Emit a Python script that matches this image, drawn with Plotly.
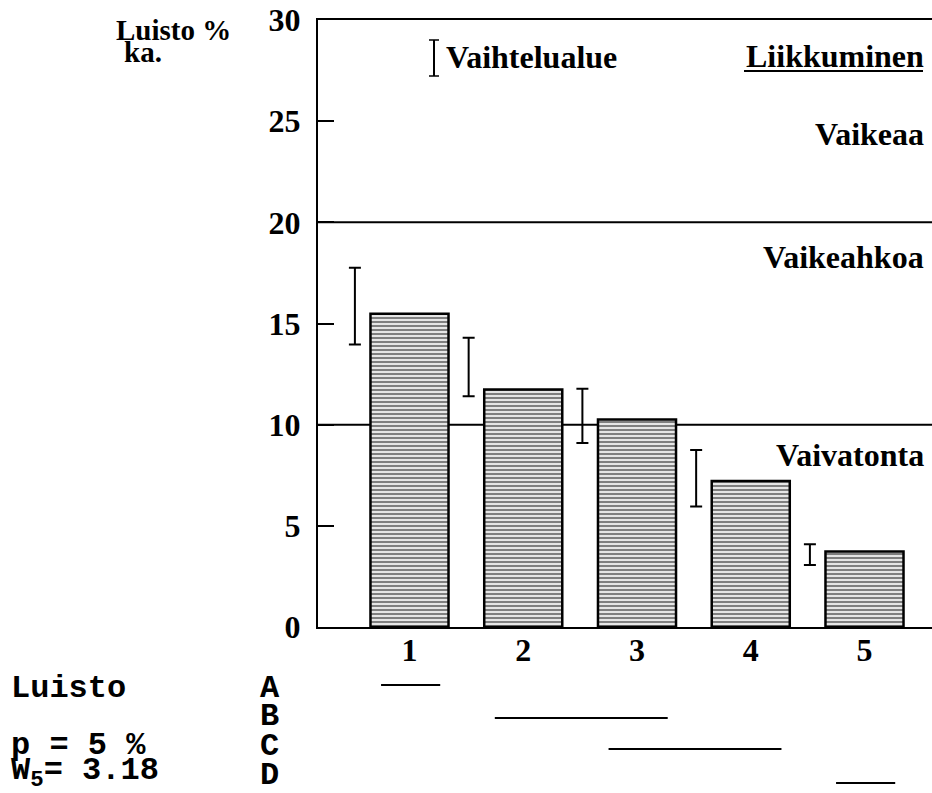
import plotly.graph_objects as go

# Movement classes along the x axis
categories = [1, 2, 3, 4, 5]
# Mean slip (Luisto %, ka.) per class
mean_slip = [15.48, 11.74, 10.26, 7.22, 3.73]
# Observed range (Vaihtelualue) per class
range_low = [13.96, 11.4, 9.1, 5.96, 3.07]
range_high = [17.75, 14.3, 11.77, 8.75, 4.09]
y_ticks = [0, 5, 10, 15, 20, 25, 30]
# Class boundaries drawn as horizontal lines, with their labels
zone_lines = [10, 20]
zone_labels = ["Vaivatonta", "Vaikeahkoa", "Vaikeaa"]
# Homogeneous groups (first class, last class) from the multiple comparison
group_letters = ["A", "B", "C", "D"]
group_spans = [(1, 1), (2, 3), (3, 4), (5, 5)]

# Layout geometry (pixels in the 932x793 page)
W, H = 932, 793
L, T, B = 318, 20, 627
PW, PH = W - L, B - T
STEP = 113.75  # pixels per category
X0 = 1 - (409.5 - L) / STEP
X1 = X0 + PW / STEP
ERR_SHIFT = -0.48


def px(x):
    return (x - L) / PW


def py(y):
    return (B - y) / PH


serif = dict(family="Liberation Serif", color="black", weight="bold")
mono = dict(family="Liberation Mono", color="black", weight="bold")

fig = go.Figure()

fig.add_trace(go.Bar(
    x=categories, y=mean_slip, width=0.686,
    marker=dict(color="white",
                line=dict(color="black", width=2.5),
                pattern=dict(shape="-", fgcolor="black", bgcolor="white",
                             size=4, solidity=0.6)),
    showlegend=False, hoverinfo="skip",
))

fig.add_trace(go.Scatter(
    x=[c + ERR_SHIFT for c in categories], y=range_low,
    mode="markers", marker=dict(size=1, color="rgba(0,0,0,0)"),
    error_y=dict(type="data", symmetric=False,
                 array=[h - l for h, l in zip(range_high, range_low)],
                 arrayminus=[0] * len(range_low),
                 color="black", thickness=2, width=6),
    showlegend=False, hoverinfo="skip",
))

shapes = []
for v in zone_lines:
    shapes.append(dict(type="line", xref="paper", yref="y", x0=0, x1=1,
                       y0=v, y1=v, layer="below",
                       line=dict(color="black", width=2)))

# Range legend key
kx, ky0, ky1 = px(434), py(40), py(76)
shapes.append(dict(type="line", xref="paper", yref="paper", x0=kx, x1=kx,
                   y0=ky0, y1=ky1, line=dict(color="black", width=2)))
for yy in (ky0, ky1):
    shapes.append(dict(type="line", xref="paper", yref="paper",
                       x0=px(429), x1=px(439), y0=yy, y1=yy,
                       line=dict(color="black", width=1.5)))

# Underline of the legend heading
shapes.append(dict(type="line", xref="paper", yref="paper",
                   x0=px(744), x1=px(923), y0=py(71), y1=py(71),
                   line=dict(color="black", width=2)))

# Group lines below the axis
group_rows = [685, 718, 749, 783]
for (a, b), row in zip(group_spans, group_rows):
    shapes.append(dict(type="line", xref="x", yref="paper",
                       x0=a - 0.25, x1=b + 0.27, y0=py(row), y1=py(row),
                       line=dict(color="black", width=2)))

ann = []


def text(s, x, y, font, size, anchor="left"):
    ann.append(dict(text=s, xref="paper", yref="paper", x=px(x), y=py(y),
                    xanchor=anchor, yanchor="middle", showarrow=False,
                    borderpad=0, font=dict(size=size, **font)))


text("Luisto %", 115, 30, serif, 29)
text("ka.", 123, 52, serif, 29)
text("Vaihtelualue", 445, 57, serif, 32)
text("Liikkuminen", 925, 56, serif, 32, "right")
text(zone_labels[2], 925, 134, serif, 32, "right")
text(zone_labels[1], 925, 257, serif, 32, "right")
text(zone_labels[0], 925, 455, serif, 32, "right")

text("Luisto", 10, 688, mono, 32)
text("p = 5 %", 10, 745, mono, 32)
text("W<sub>5</sub>= 3.18", 10, 772, mono, 32)
for letter, row in zip(group_letters, [688, 716, 746, 775]):
    text(letter, 259, row, mono, 32)

fig.update_layout(
    width=W, height=H,
    margin=dict(l=L, r=0, t=T, b=H - B, pad=0),
    paper_bgcolor="white", plot_bgcolor="white",
    shapes=shapes, annotations=ann,
    xaxis=dict(range=[X0, X1], tickvals=categories,
               ticktext=[str(c) for c in categories],
               showline=True, linecolor="black", linewidth=2, mirror=True,
               ticks="", showgrid=False, zeroline=False,
               tickfont=dict(size=32, **serif), ticklabelstandoff=-6),
    yaxis=dict(range=[0, 30], tickvals=y_ticks,
               showline=True, linecolor="black", linewidth=2,
               ticks="inside", ticklen=16, tickwidth=2, tickcolor="black",
               showgrid=False, zeroline=False,
               tickfont=dict(size=32, **serif), ticklabelstandoff=9),
)

fig.write_html("out.html")
